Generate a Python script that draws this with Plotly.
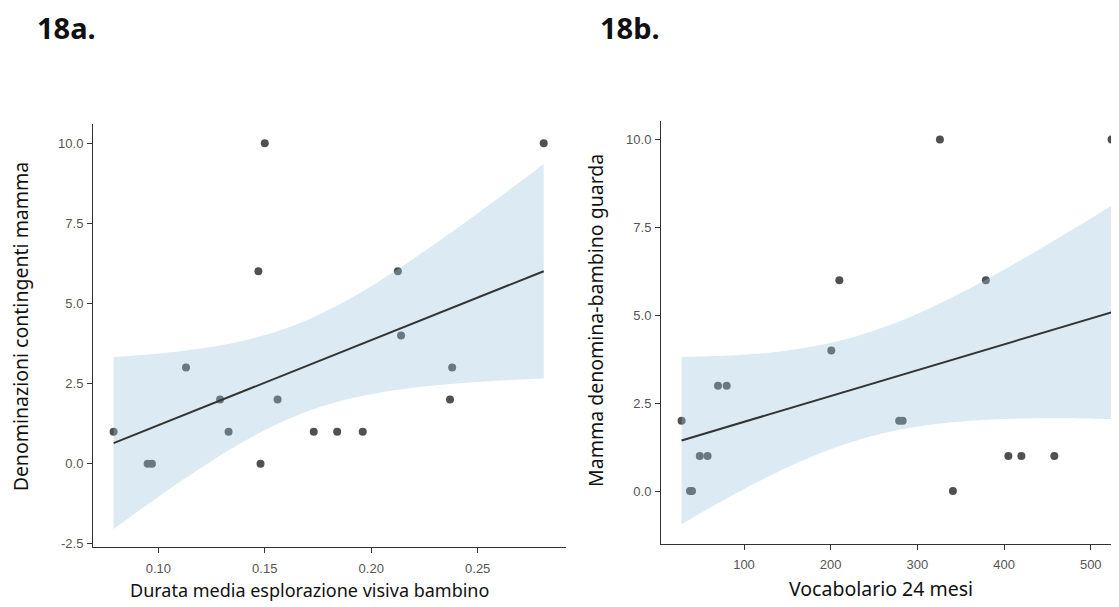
import numpy as np
import plotly.graph_objects as go

# ---- Data ----
a_x = [0.079, 0.095, 0.097, 0.113, 0.129, 0.133, 0.147, 0.148, 0.150,
       0.156, 0.173, 0.184, 0.196, 0.2125, 0.214, 0.237, 0.238, 0.281]
a_y = [1, 0, 0, 3, 2, 1, 6, 0, 10,
       2, 1, 1, 1, 6, 4, 2, 3, 10]

b_x = [28, 37.7, 40, 49, 58, 70, 80, 200.7, 210,
       279, 283, 326, 341, 379, 405, 420, 458, 524]
b_y = [2, 0, 0, 1, 1, 3, 3, 4, 6,
       2, 2, 10, 0, 6, 1, 1, 1, 10]

a_xticks = [0.10, 0.15, 0.20, 0.25]
a_yticks = [-2.5, 0.0, 2.5, 5.0, 7.5, 10.0]
b_xticks = [100, 200, 300, 400, 500]
b_yticks = [0.0, 2.5, 5.0, 7.5, 10.0]

T_CRIT = 2.1199  # t quantile 0.975, df = n - 2 = 16


def lm_band(x, y, n=80):
    x = np.asarray(x, float)
    y = np.asarray(y, float)
    N = len(x)
    b1, b0 = np.polyfit(x, y, 1)
    resid = y - (b0 + b1 * x)
    s = np.sqrt(np.sum(resid ** 2) / (N - 2))
    xm = x.mean()
    sxx = np.sum((x - xm) ** 2)
    xs = np.linspace(x.min(), x.max(), n)
    fit = b0 + b1 * xs
    se = s * np.sqrt(1.0 / N + (xs - xm) ** 2 / sxx)
    return xs, fit, fit - T_CRIT * se, fit + T_CRIT * se


# page body has an 8px margin: figure occupies the window from (8, 8)
OFF = 8
W, H = 1119 - OFF, 607 - OFF


def px(X):
    return (X - OFF) / W


def py(Y):
    return 1 - (Y - OFF) / H


fig = go.Figure()

PT = "#505050"
FILL = "rgba(152,195,221,0.35)"


def add_panel(x, y, xa, ya):
    fig.add_trace(go.Scatter(x=x, y=y, mode="markers",
                             marker=dict(color=PT, size=8),
                             xaxis=xa, yaxis=ya, showlegend=False))
    xs, fit, lo, hi = lm_band(x, y)
    fig.add_trace(go.Scatter(x=list(xs) + list(xs[::-1]),
                             y=list(hi) + list(lo[::-1]),
                             mode="none", fill="toself", fillcolor=FILL,
                             xaxis=xa, yaxis=ya, showlegend=False,
                             hoverinfo="skip"))
    fig.add_trace(go.Scatter(x=xs, y=fit, mode="lines",
                             line=dict(color="#333333", width=2),
                             xaxis=xa, yaxis=ya, showlegend=False))


add_panel(a_x, a_y, "x", "y")
add_panel(b_x, b_y, "x2", "y2")

axis_common = dict(showgrid=False, zeroline=False, showline=True,
                   linecolor="#333333", linewidth=1, ticks="outside",
                   ticklen=5, tickcolor="#333333", tickwidth=1,
                   tickfont=dict(family="Liberation Sans, Arial", size=13,
                                 color="#555555"))

fig.update_layout(
    width=W, height=H,
    margin=dict(l=0, r=0, t=0, b=0),
    paper_bgcolor="white", plot_bgcolor="white",
    xaxis=dict(domain=[px(93), px(566)], range=[0.06933, 0.29147],
               tickvals=a_xticks, ticktext=[f"{v:.2f}" for v in a_xticks],
               anchor="y", ticklabelstandoff=4, **axis_common),
    yaxis=dict(domain=[py(551), py(125)], range=[-2.61, 10.59],
               tickvals=a_yticks, ticktext=[f"{v:.1f}" for v in a_yticks],
               anchor="x", ticklabelstandoff=1, **axis_common),
    xaxis2=dict(domain=[px(661), 1.0], range=[4.25, 532.6],
                tickvals=b_xticks, ticktext=[str(v) for v in b_xticks],
                anchor="y2", ticklabelstandoff=3, **axis_common),
    yaxis2=dict(domain=[py(547.7), py(121.7)], range=[-1.508, 10.53],
                tickvals=b_yticks, ticktext=[f"{v:.1f}" for v in b_yticks],
                anchor="x2", ticklabelstandoff=1, **axis_common),
)


def tf(size):
    return dict(family="Noto Sans", size=size, color="#111111")


ann = [
    dict(text="<b>18a.</b>", x=px(35), y=py(28), xanchor="left", yanchor="middle",
         font=tf(29)),
    dict(text="<b>18b.</b>", x=px(598), y=py(28), xanchor="left", yanchor="middle",
         font=tf(29)),
    dict(text="Durata media esplorazione visiva bambino", x=px(309.5), y=0,
         xanchor="center", yanchor="bottom", borderpad=0, font=tf(18)),
    dict(text="Vocabolario 24 mesi", x=px(880.5), y=0,
         xanchor="center", yanchor="bottom", borderpad=0, font=tf(19.5)),
    dict(text="Denominazioni contingenti mamma", x=px(20), y=py(328.5),
         xanchor="center", yanchor="middle", textangle=-90, font=tf(19.5)),
    dict(text="Mamma denomina-bambino guarda", x=px(596), y=py(323),
         xanchor="center", yanchor="middle", textangle=-90, font=tf(19.5)),
]
for a in ann:
    a.update(xref="paper", yref="paper", showarrow=False)
fig.update_layout(annotations=ann)

fig.write_html("out.html")
